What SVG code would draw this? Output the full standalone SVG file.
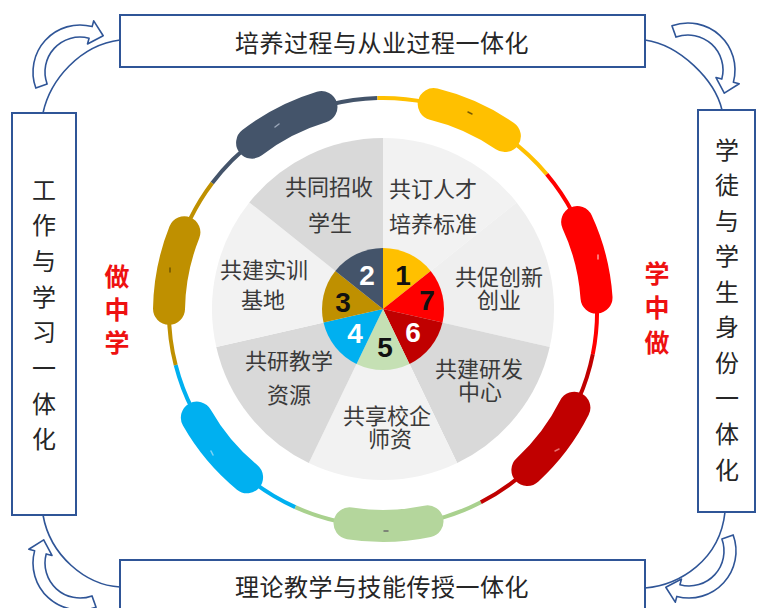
<svg xmlns="http://www.w3.org/2000/svg" xmlns:xlink="http://www.w3.org/1999/xlink" width="758" height="608" viewBox="0 0 758 608">
<style>
.box{fill:#ffffff;stroke:#2f5597;stroke-width:2}
.conn{fill:none;stroke:#2f5597;stroke-width:1.6}
.carrow{fill:#ffffff;stroke:#2f5597;stroke-width:1.6;stroke-linejoin:round}
.boxtxt{font-family:"Noto Sans CJK SC","Noto Sans",sans-serif;font-size:24px;fill:#262626}
.lbl{font-family:"Noto Sans CJK SC","Noto Sans",sans-serif;font-size:22px;fill:#3a3a3a;text-anchor:middle}
.side{font-family:"Noto Sans CJK SC","Noto Sans",sans-serif;font-size:25px;font-weight:bold;fill:#ee1111;text-anchor:middle}
.num{font-family:"Liberation Sans","Noto Sans",sans-serif;font-size:28px;font-weight:bold;text-anchor:middle}
.thin{fill:none;stroke-width:4}
.cap{fill:none;stroke-width:32;stroke-linecap:round}
.dash{stroke-width:1.5;stroke-linecap:round}
</style>
<defs>
<path id="carrow" class="carrow" d="M-44.17,16.07 A47,47 0 0 1 12.16,-45.40 L13.72,-51.19 L23.2,-36.3 L7.51,-28.01 L9.06,-33.81 A35,35 0 0 0 -32.89,11.97 Z"/>
</defs>
<rect width="758" height="608" fill="#ffffff"/>

<g id="connectors">
<path class="conn" d="M43,113 C50,80 80,45 120,40"/>
<path class="conn" d="M645,40 C680,45 715,80 722,110"/>
<path class="conn" d="M725,512 C720,560 680,585 645,588"/>
<path class="conn" d="M43,515 C50,555 85,585 120,587"/>
<use xlink:href="#carrow" href="#carrow" transform="translate(80,72)"/>
<use xlink:href="#carrow" href="#carrow" transform="translate(688,70) rotate(90)"/>
<use xlink:href="#carrow" href="#carrow" transform="translate(689,551) rotate(180)"/>
<use xlink:href="#carrow" href="#carrow" transform="translate(80,563) rotate(270)"/>
</g>

<g id="ring">
<path class="thin" stroke="#a9d18e" d="M480.86,502.31 A214,214 0 0 1 295.24,507.17"/>
<path class="thin" stroke="#00b0f0" d="M295.24,507.17 A214,214 0 0 1 175.68,365.07"/>
<path class="thin" stroke="#bf9000" d="M175.68,365.07 A214,214 0 0 1 212.25,183.0"/>
<path class="thin" stroke="#44546a" d="M212.25,183.0 A214,214 0 0 1 377.40,98.07"/>
<path class="thin" stroke="#ffc000" d="M377.40,98.07 A214,214 0 0 1 546.75,174.25"/>
<path class="thin" stroke="#ff0000" d="M546.75,174.25 A214,214 0 0 1 592.81,354.14"/>
<path class="thin" stroke="#c00000" d="M592.81,354.14 A214,214 0 0 1 480.86,502.31"/>
<path class="cap" stroke="#b4d69c" d="M427.49,521.32 A214,214 0 0 1 349.53,523.37"/>
<path class="cap" stroke="#00b0f0" d="M247.07,477.29 A214,214 0 0 1 196.86,417.61"/>
<path class="cap" stroke="#bf9000" d="M169.02,308.79 A214,214 0 0 1 184.39,232.33"/>
<path class="cap" stroke="#44546a" d="M252.10,142.70 A214,214 0 0 1 321.45,107.03"/>
<path class="cap" stroke="#ffc000" d="M433.72,104.10 A214,214 0 0 1 504.87,136.07"/>
<path class="cap" stroke="#ff0000" d="M577.16,222.03 A214,214 0 0 1 596.51,297.59"/>
<path class="cap" stroke="#c00000" d="M574.40,407.72 A214,214 0 0 1 527.39,469.97"/>
<line class="dash" stroke="#6b6b6b" x1="384" y1="531" x2="388" y2="531"/>
<line class="dash" stroke="#7fd3f5" x1="211" y1="451" x2="213" y2="455"/>
<line class="dash" stroke="#6e5400" x1="170" y1="268" x2="170" y2="272"/>
<line class="dash" stroke="#9aa6b8" x1="275" y1="127" x2="279" y2="124"/>
<line class="dash" stroke="#7a5a00" x1="468" y1="112" x2="472" y2="114"/>
<line class="dash" stroke="#ff9a9a" x1="598" y1="255" x2="598" y2="259"/>
<line class="dash" stroke="#e87070" x1="555" y1="451" x2="559" y2="449"/>
</g>

<g id="wheel">
<path fill="#f2f2f2" d="M383,309 L383,138 A171,171 0 0 1 516.69,202.38 Z"/>
<path fill="#efefef" d="M383,309 L516.69,202.38 A171,171 0 0 1 549.71,347.05 Z"/>
<path fill="#d9d9d9" d="M383,309 L549.71,347.05 A171,171 0 0 1 457.20,463.07 Z"/>
<path fill="#f2f2f2" d="M383,309 L457.20,463.07 A171,171 0 0 1 308.80,463.07 Z"/>
<path fill="#d9d9d9" d="M383,309 L308.80,463.07 A171,171 0 0 1 216.29,347.05 Z"/>
<path fill="#f2f2f2" d="M383,309 L216.29,347.05 A171,171 0 0 1 249.31,202.38 Z"/>
<path fill="#d9d9d9" d="M383,309 L249.31,202.38 A171,171 0 0 1 383,138 Z"/>
<path fill="#ffc000" d="M383,309 L383,248 A61,61 0 0 1 430.69,270.97 Z"/>
<path fill="#ff0000" d="M383,309 L430.69,270.97 A61,61 0 0 1 442.47,322.57 Z"/>
<path fill="#c00000" d="M383,309 L442.47,322.57 A61,61 0 0 1 409.47,363.96 Z"/>
<path fill="#c5e0b4" d="M383,309 L409.47,363.96 A61,61 0 0 1 356.53,363.96 Z"/>
<path fill="#00b0f0" d="M383,309 L356.53,363.96 A61,61 0 0 1 323.53,322.57 Z"/>
<path fill="#bf9000" d="M383,309 L323.53,322.57 A61,61 0 0 1 335.31,270.97 Z"/>
<path fill="#44546a" d="M383,309 L335.31,270.97 A61,61 0 0 1 383,248 Z"/>
</g>

<g id="numbers">
<text class="num" x="403" y="285" fill="#111111">1</text>
<text class="num" x="367" y="285" fill="#ffffff">2</text>
<text class="num" x="343" y="312" fill="#111111">3</text>
<text class="num" x="355" y="343" fill="#ffffff">4</text>
<text class="num" x="385" y="357" fill="#111111">5</text>
<text class="num" x="413" y="342" fill="#ffffff">6</text>
<text class="num" x="427" y="310" fill="#111111">7</text>
</g>

<g id="sector1"><text class="lbl"><tspan x="433" y="197">共订人才</tspan><tspan x="433" y="232">培养标准</tspan></text></g>
<g id="sector2"><text class="lbl"><tspan x="329" y="195">共同招收</tspan><tspan x="330" y="231">学生</tspan></text></g>
<g id="sector3"><text class="lbl"><tspan x="264" y="278">共建实训</tspan><tspan x="263" y="308">基地</tspan></text></g>
<g id="sector4"><text class="lbl"><tspan x="289" y="369">共研教学</tspan><tspan x="289" y="403">资源</tspan></text></g>
<g id="sector5"><text class="lbl"><tspan x="387" y="424">共享校企</tspan><tspan x="390" y="447">师资</tspan></text></g>
<g id="sector6"><text class="lbl"><tspan x="479" y="377">共建研发</tspan><tspan x="480" y="400">中心</tspan></text></g>
<g id="sector7"><text class="lbl"><tspan x="499" y="285">共促创新</tspan><tspan x="499" y="308">创业</tspan></text></g>

<g id="side-left">
<text class="side"><tspan x="117" y="286">做</tspan><tspan x="117" y="319">中</tspan><tspan x="117" y="352">学</tspan></text>
</g>
<g id="side-right">
<text class="side"><tspan x="657" y="283">学</tspan><tspan x="657" y="317">中</tspan><tspan x="657" y="352">做</tspan></text>
</g>

<g id="box-top">
<rect class="box" x="120" y="15" width="525" height="52"/>
<text class="boxtxt" x="382" y="51.5" text-anchor="middle" letter-spacing="0.5">培养过程与从业过程一体化</text>
</g>
<g id="box-bottom">
<rect class="box" x="120" y="560" width="525" height="60"/>
<text class="boxtxt" x="382" y="595.5" text-anchor="middle" letter-spacing="0.5">理论教学与技能传授一体化</text>
</g>
<g id="box-left">
<rect class="box" x="12" y="113" width="64" height="402"/>
<text class="boxtxt" text-anchor="middle"><tspan x="44" y="198.5">工</tspan><tspan x="44" y="234.2">作</tspan><tspan x="44" y="269.9">与</tspan><tspan x="44" y="305.6">学</tspan><tspan x="44" y="341.3">习</tspan><tspan x="44" y="377">一</tspan><tspan x="44" y="412.7">体</tspan><tspan x="44" y="448.4">化</tspan></text>
</g>
<g id="box-right">
<rect class="box" x="698" y="110" width="57" height="402"/>
<text class="boxtxt" text-anchor="middle"><tspan x="727" y="158.5">学</tspan><tspan x="727" y="194">徒</tspan><tspan x="727" y="229.6">与</tspan><tspan x="727" y="265.2">学</tspan><tspan x="727" y="300.7">生</tspan><tspan x="727" y="336.3">身</tspan><tspan x="727" y="371.8">份</tspan><tspan x="727" y="407.4">一</tspan><tspan x="727" y="443">体</tspan><tspan x="727" y="478.5">化</tspan></text>
</g>
</svg>
